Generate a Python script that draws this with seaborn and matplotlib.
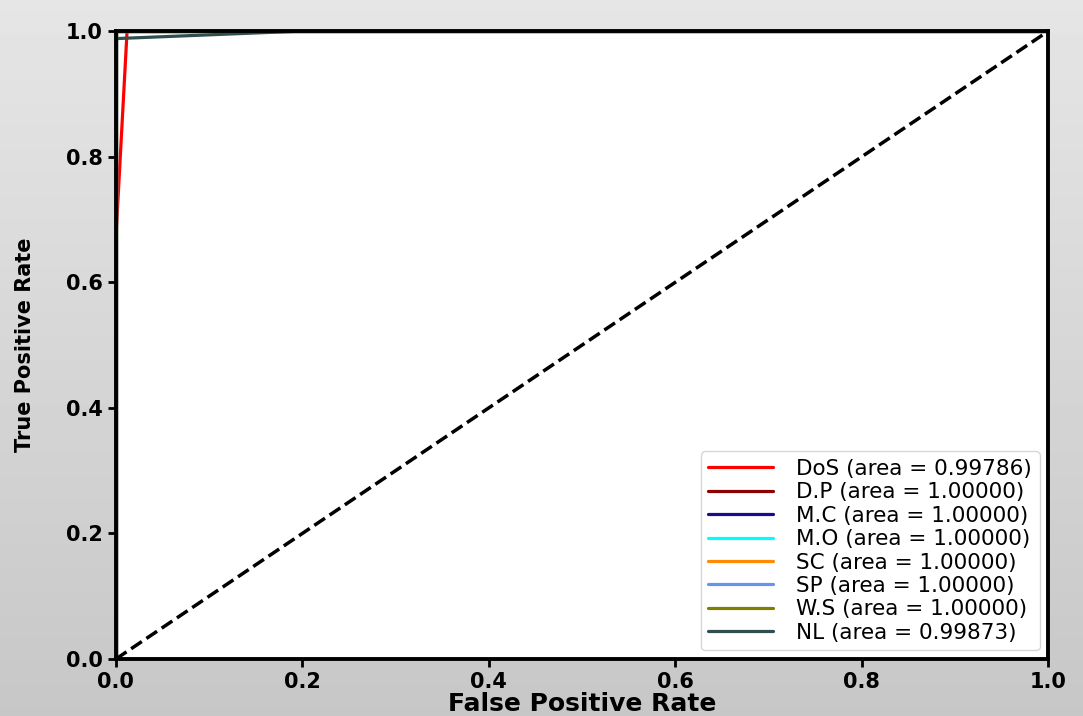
import numpy as np
import pandas as pd
import seaborn as sns
import matplotlib.pyplot as plt

sns.set_style('ticks')
plt.rcParams['font.family'] = ['DejaVu Sans']
plt.rcParams['text.color'] = 'black'
plt.rcParams['axes.labelcolor'] = 'black'
plt.rcParams['xtick.color'] = 'black'
plt.rcParams['ytick.color'] = 'black'
plt.rcParams['axes.edgecolor'] = 'black'

# ROC curves
classes = ['DoS', 'D.P', 'M.C', 'M.O', 'SC', 'SP', 'W.S', 'NL']
areas = [0.99786, 1.0, 1.0, 1.0, 1.0, 1.0, 1.0, 0.99873]
colors = ['red', 'darkred', '#1a0a8c', 'aqua', 'darkorange',
          'cornflowerblue', 'olive', 'darkslategray']
fpr = [
    [0.0, 0.0, 0.012, 1.0],
    [0.0, 0.0, 1.0],
    [0.0, 0.0, 1.0],
    [0.0, 0.0, 1.0],
    [0.0, 0.0, 1.0],
    [0.0, 0.0, 1.0],
    [0.0, 0.0, 1.0],
    [0.0, 0.0, 0.2, 1.0],
]
tpr = [
    [0.0, 0.67, 1.0, 1.0],
    [0.0, 1.0, 1.0],
    [0.0, 1.0, 1.0],
    [0.0, 1.0, 1.0],
    [0.0, 1.0, 1.0],
    [0.0, 1.0, 1.0],
    [0.0, 1.0, 1.0],
    [0.0, 0.988, 1.0, 1.0],
]

fig = plt.figure(figsize=(10.83, 7.16), dpi=100, facecolor='#d8d8d8')
# soft grey backdrop, lighter at the top like the scanned page
grad = np.linspace(0.90, 0.78, 716)[:, None] * np.ones((1, 1083))
fig.figimage(grad, cmap='gray', vmin=0, vmax=1, zorder=-10)

ax = fig.add_axes([0.107, 0.0796, 0.861, 0.877])
ax.set_facecolor('white')

for name, a, c, x, y in zip(classes, areas, colors, fpr, tpr):
    df = pd.DataFrame({'x': x, 'y': y})
    sns.lineplot(data=df, x='x', y='y', sort=False, estimator=None,
                 color=c, lw=2.3, ax=ax,
                 label='{} (area = {:.5f})'.format(name, a))

ax.plot([0, 1], [0, 1], 'k--', lw=2.5)
ax.set_xlim(0.0, 1.0)
ax.set_ylim(0.0, 1.0)
ax.set_xticks(np.arange(0, 1.01, 0.2))
ax.set_yticks(np.arange(0, 1.01, 0.2))
ax.tick_params(width=2, length=6, labelsize=15)
for lbl in ax.get_xticklabels() + ax.get_yticklabels():
    lbl.set_fontweight('bold')
for s in ax.spines.values():
    s.set_linewidth(2.8)
    s.set_visible(True)
ax.set_xlabel('False Positive Rate', fontsize=18, fontweight='bold', labelpad=0)
ax.set_ylabel('True Positive Rate', fontsize=15, fontweight='bold', labelpad=22)
ax.legend(loc='lower right', fontsize=15.5, handlelength=3.0,
          handletextpad=1.1, labelspacing=0.16, borderpad=0.35,
          borderaxespad=0.4, frameon=True)

fig.savefig('out.png', dpi=100)
